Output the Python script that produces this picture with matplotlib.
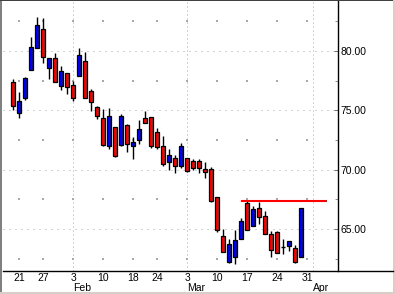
import matplotlib
matplotlib.use('Agg')
import matplotlib.pyplot as plt
import matplotlib.transforms as mtrans
from matplotlib.patches import Rectangle
from matplotlib.lines import Line2D
import pandas as pd

plt.rcParams['font.family'] = ['Liberation Sans', 'DejaVu Sans']

# ---------------- data ----------------
holidays = ['2003-01-20', '2003-02-17']
first_day = '2003-01-17'

opens = [77.36, 74.80, 76.06, 78.37, 80.22, 81.82, 78.59, 79.38, 77.07, 78.14,
         77.11, 77.86, 79.13, 76.60, 75.30, 74.33, 72.02, 73.57, 72.08, 73.74,
         71.97, 72.46, 74.33, 74.41, 73.21, 71.98, 70.62, 70.96, 70.32, 70.96,
         70.70, 70.70, 70.03, 70.03, 67.67, 64.39, 62.25, 62.67, 64.17, 67.17,
         65.29, 66.74, 66.07, 64.56, 64.72, 63.46, 63.53, 63.37, 62.67]
highs = [77.64, 76.54, 77.78, 81.18, 82.89, 82.78, 79.38, 79.85, 78.71, 78.14,
         77.47, 80.22, 79.91, 76.77, 75.36, 75.11, 75.17, 73.59, 74.66, 73.87,
         72.75, 74.16, 74.96, 74.41, 73.48, 72.83, 71.71, 71.26, 72.23, 70.96,
         70.87, 70.87, 70.64, 70.20, 67.67, 64.97, 64.13, 64.94, 65.93, 67.47,
         66.96, 67.30, 66.50, 64.83, 64.87, 64.17, 63.99, 63.65, 66.74]
lows = [75.03, 74.38, 75.89, 78.37, 80.22, 79.01, 77.66, 77.41, 76.71, 76.35,
        75.81, 77.86, 76.06, 74.92, 74.27, 71.99, 71.71, 71.09, 72.02, 71.46,
        70.90, 72.18, 73.96, 71.80, 71.71, 70.31, 70.00, 69.74, 70.18, 69.80,
        69.97, 69.74, 69.27, 67.30, 64.77, 63.09, 62.14, 62.09, 64.12, 64.89,
        65.29, 65.44, 64.62, 62.67, 62.95, 62.88, 63.15, 62.16, 62.67]
closes = [75.39, 75.78, 77.70, 80.31, 82.16, 79.52, 79.38, 77.41, 78.31, 76.94,
          76.01, 79.63, 76.06, 75.67, 74.49, 72.08, 74.55, 71.18, 74.49, 72.14,
          72.30, 73.42, 73.96, 72.02, 71.88, 70.45, 71.22, 70.27, 71.98, 69.86,
          70.16, 70.11, 69.78, 67.38, 64.92, 63.09, 63.72, 64.07, 65.67, 64.94,
          66.68, 65.99, 64.62, 63.21, 62.95, 63.46, 63.99, 62.25, 66.74]

week_dates = ['2003-01-21', '2003-01-27', '2003-02-03', '2003-02-10', '2003-02-18',
              '2003-02-24', '2003-03-03', '2003-03-10', '2003-03-17', '2003-03-24',
              '2003-03-31']
week_labels = ['21', '27', '3', '10', '18', '24', '3', '10', '17', '24', '31']
month_dates = ['2003-02-03', '2003-03-03', '2003-04-01']
month_labels = ['Feb', 'Mar', 'Apr']

y_major = [65, 70, 75, 80]
y_minor = [62.5, 67.5, 72.5, 77.5, 82.5]

res_level = 67.36
res_start = '2003-03-14'
res_end = '2003-04-03'

# trading calendar -> integer positions
cal = [d for d in pd.bdate_range(first_day, '2003-04-11')
       if d.strftime('%Y-%m-%d') not in holidays]
pos = {d.strftime('%Y-%m-%d'): i for i, d in enumerate(cal)}

# ---------------- figure ----------------
W, H = 395, 294
fig = plt.figure(figsize=(W / 100, H / 100), dpi=100)
fig.patch.set_facecolor('white')


def fx(px):
    return px / W


def fy(py):
    return (H - py) / H


ax = fig.add_axes([fx(3), fy(271), fx(338) - fx(3), fy(1) - fy(271)])
ax.set_facecolor('white')
ax.set_xlim(-1.717, 54.117)
ax.set_ylim(61.462, 84.208)

grid_col = '#a8a8a8'
for y in y_major:
    ax.axhline(y, color=grid_col, lw=0.72, ls=(0, (1, 5)), zorder=0)
for d in month_dates:
    ax.axvline(pos[d], color=grid_col, lw=0.72, ls=(0, (1, 3)), zorder=0)
wx = [pos[d] for d in week_dates]
for y in y_minor:
    ax.scatter(wx, [y] * len(wx), marker='s', s=0.55, color=grid_col,
               linewidths=0, zorder=0)

# candles
bw = 0.66
for i, (o, h, l, c) in enumerate(zip(opens, highs, lows, closes)):
    ax.plot([i, i], [l, h], color='black', lw=1.0, zorder=2,
            solid_capstyle='butt')
    if abs(c - o) < 1e-9:
        ax.plot([i - bw / 2, i + bw / 2], [o, o], color='black', lw=1.0,
                zorder=3, solid_capstyle='butt')
    else:
        col = '#0000ff' if c > o else '#ff0000'
        ax.add_patch(Rectangle((i - bw / 2, min(o, c)), bw, abs(c - o),
                               facecolor=col, edgecolor='black', lw=0.9,
                               zorder=3))

# resistance line
ax.plot([pos[res_start], pos[res_end] + 0.3], [res_level, res_level],
        color='#ff0000', lw=1.5, zorder=4, solid_capstyle='butt')

# axes styling
for s in ['left', 'top', 'bottom']:
    ax.spines[s].set_visible(False)
ax.spines['right'].set_color('black')
ax.spines['right'].set_linewidth(1.0)
ax.yaxis.tick_right()
ax.set_yticks(y_major)
ax.set_yticklabels(['%.2f' % v for v in y_major])
ax.set_yticks(y_minor, minor=True)
ax.tick_params(axis='y', which='major', direction='in', length=3, width=0.7,
               color='#707070', pad=1.5, labelsize=7.5, labelcolor='black')
ax.tick_params(axis='y', which='minor', direction='in', length=2, width=0.7,
               color='#909090')
ax.set_xticks([])

trans = mtrans.blended_transform_factory(ax.transData, ax.transAxes)
for d, lab in zip(week_dates, week_labels):
    ax.text(pos[d], -0.026, lab, transform=trans, ha='center', va='center',
            fontsize=7.5, color='black', clip_on=False)
for d, lab in zip(month_dates, month_labels):
    ax.text(pos[d] - 0.05, -0.063, lab, transform=trans, ha='left',
            va='center', fontsize=7.5, color='black', clip_on=False)

# bottom axis line spanning full width
fig.add_artist(Line2D([fx(3), fx(393)], [fy(271), fy(271)], color='black',
                      lw=1.0, transform=fig.transFigure))

# window frame
fig.add_artist(Rectangle((0, 0), fx(2), 1, transform=fig.transFigure,
                         facecolor='#808080', edgecolor='none'))
fig.add_artist(Rectangle((0, fy(1)), 1, 1 - fy(1), transform=fig.transFigure,
                         facecolor='#404040', edgecolor='none'))
fig.add_artist(Rectangle((0, 0), 1, fy(292), transform=fig.transFigure,
                         facecolor='#d4d0c8', edgecolor='none'))
fig.add_artist(Rectangle((fx(393), 0), 1 - fx(393), 1,
                         transform=fig.transFigure,
                         facecolor='#d4d0c8', edgecolor='none'))

fig.savefig('out.png', dpi=100, facecolor='white')
